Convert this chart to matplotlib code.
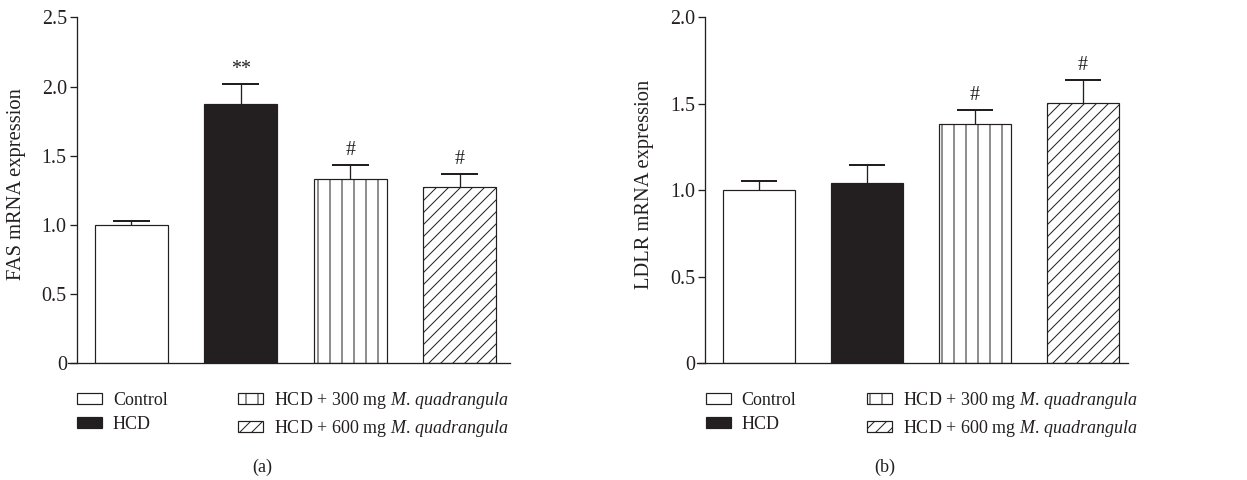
import numpy as np
import matplotlib
matplotlib.use('Agg')
import matplotlib.pyplot as plt

plt.rcParams['font.family'] = ['Liberation Serif', 'DejaVu Serif']
plt.rcParams['mathtext.fontset'] = 'custom'
plt.rcParams['mathtext.rm'] = 'Liberation Serif'
plt.rcParams['mathtext.it'] = 'Liberation Serif:italic'
plt.rcParams['hatch.linewidth'] = 1.0

INK = '#231f20'

groups = ['Control', 'HCD',
          'HCD + 300 mg $\\mathit{M}$. $\\mathit{quadrangula}$',
          'HCD + 600 mg $\\mathit{M}$. $\\mathit{quadrangula}$']

fas_mean = [1.00, 1.875, 1.33, 1.275]
fas_err = [0.03, 0.14, 0.10, 0.095]
fas_marks = ['', '**', '#', '#']

ldlr_mean = [1.00, 1.045, 1.385, 1.505]
ldlr_err = [0.055, 0.10, 0.077, 0.133]
ldlr_marks = ['', '', '#', '#']

fas_ticks = [0, 0.5, 1.0, 1.5, 2.0, 2.5]
ldlr_ticks = [0, 0.5, 1.0, 1.5, 2.0]

fills = ['white', INK, 'white', 'white']
hatches = [None, None, '|', '//']

W, H = 1247, 480
fig = plt.figure(figsize=(W / 72, H / 72), dpi=72)


def draw_panel(ax, means, errs, marks, ticks, xlim):
    means = np.asarray(means)
    errs = np.asarray(errs)
    x = np.arange(len(means))
    bars = ax.bar(x, means, width=0.667, color=fills, edgecolor=INK,
                  linewidth=1.2, zorder=2)
    for b, h in zip(bars, hatches):
        if h:
            b.set_hatch(h)
    tops = means + errs
    ax.vlines(x, means, tops, color=INK, lw=1.3, zorder=3)
    ax.hlines(tops, x - 0.17, x + 0.17, color=INK, lw=2, zorder=3)
    for xi, top, m in zip(x, tops, marks):
        if m:
            ax.annotate(m, (xi, top), xytext=(0, 5), textcoords='offset points',
                        ha='center', va='bottom', fontsize=20, color=INK)
    ax.set_xlim(*xlim)
    ax.set_ylim(ticks[0], ticks[-1])
    ax.set_yticks(ticks)
    ax.set_yticklabels(['0' if t == 0 else f'{t:.1f}' for t in ticks])
    ax.set_xticks([])
    for s in ('top', 'right'):
        ax.spines[s].set_visible(False)
    ax.spines['left'].set_position(('data', -0.5))
    for s in ('left', 'bottom'):
        ax.spines[s].set_linewidth(1.3)
        ax.spines[s].set_color(INK)
    ax.tick_params(axis='y', direction='out', length=7, width=1.3,
                   labelsize=20, pad=3, colors=INK)
    ax.legend(bars, groups, ncol=2, loc='upper left',
              bbox_to_anchor=(0.02, -0.078), frameon=False, fontsize=18,
              handlelength=1.4, handleheight=0.55, handletextpad=0.6,
              columnspacing=3.9, labelspacing=0.36, borderpad=0,
              borderaxespad=0, labelcolor=INK)
    return bars


y0 = (H - 363.3) / H
hh = 346 / H
ax1 = fig.add_axes([68 / W, y0, 442 / W, hh])
draw_panel(ax1, fas_mean, fas_err, fas_marks, fas_ticks, (-0.58, 3.46))
ax2 = fig.add_axes([697 / W, y0, 431 / W, hh])
draw_panel(ax2, ldlr_mean, ldlr_err, ldlr_marks, ldlr_ticks, (-0.574, 3.417))

fig.text(17 / W, (H - 184) / H, 'FAS mRNA expression', rotation=90,
         ha='center', va='center', fontsize=20.5, color=INK)
fig.text(645 / W, (H - 184) / H, 'LDLR mRNA expression', rotation=90,
         ha='center', va='center', fontsize=20.5, color=INK)
fig.text(262 / W, (H - 467) / H, '(a)', ha='center', va='center',
         fontsize=18, color=INK)
fig.text(885 / W, (H - 467) / H, '(b)', ha='center', va='center',
         fontsize=18, color=INK)

fig.savefig('out.png', dpi=72, facecolor='white')
